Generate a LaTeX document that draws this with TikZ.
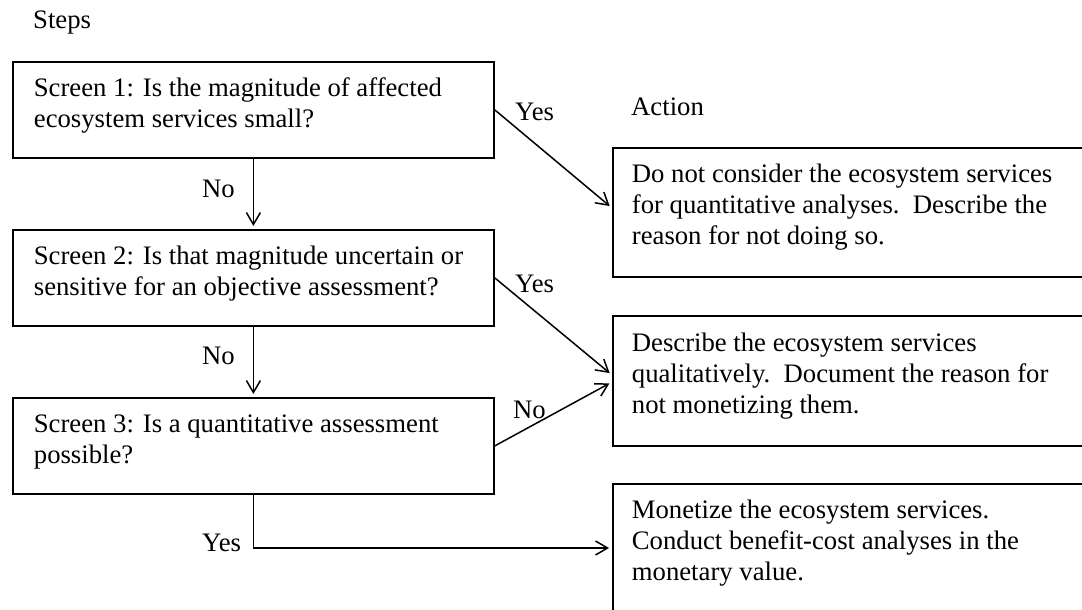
\documentclass[tikz,border=0pt]{standalone}
\usepackage{fontspec}
\setmainfont{Liberation Serif}
\usetikzlibrary{arrows.meta,calc}
\newcommand\bxt[5]{\parbox[c][#2][t]{#1}{\setlength{\leftskip}{#3}\setlength{\parindent}{0pt}\rule{0pt}{#4}#5}}
\tikzset{
  box/.style={draw, line width=1.8pt, inner sep=0pt, anchor=north west},
  lbl/.style={inner sep=0pt, anchor=base west},
  conn/.style={line width=1.5pt, -{Straight Barb[length=12pt,width=14pt,line width=1.5pt]}, shorten >=3pt},
  every node/.style={font=\fontsize{26.7pt}{31pt}\selectfont}
}
\begin{document}
\begin{tikzpicture}[x=1pt,y=-1pt]
\useasboundingbox (0,0) rectangle (1082,610);
\clip (0,0) rectangle (1082,610);
% titles
\node[lbl] (steps) at (33,29) {Steps};
\node[lbl] (action) at (631,115) {Action};
% step boxes
\node[box] (s1) at (12,61) {\bxt{481pt}{96pt}{21pt}{35pt}{Screen 1: Is the magnitude of affected\\ecosystem services small?}};
\node[box] (s2) at (12,229) {\bxt{481pt}{96pt}{21pt}{35pt}{Screen 2: Is that magnitude uncertain or\\sensitive for an objective assessment?}};
\node[box] (s3) at (12,397) {\bxt{481pt}{96pt}{21pt}{35pt}{Screen 3: Is a quantitative assessment\\possible?}};
% action boxes
\node[box] (a1) at (612,147) {\bxt{500pt}{129pt}{19pt}{35pt}{Do not consider the ecosystem services\\for quantitative analyses.\ \ Describe the\\reason for not doing so.}};
\node[box] (a2) at (612,315) {\bxt{500pt}{130pt}{19pt}{36pt}{Describe the ecosystem services\\qualitatively.\ \ Document the reason for\\not monetizing them.}};
\node[box] (a3) at (612,483) {\bxt{500pt}{150pt}{19pt}{35pt}{Monetize the ecosystem services.\\Conduct benefit-cost analyses in the\\monetary value.}};
% connectors
\draw[conn] (s1.south) -- (s2.north);
\draw[conn] (s2.south) -- (s3.north);
\draw[conn] (s1.east) -- ($(a1.north west)+(0,61)$);
\draw[conn] (s2.east) -- ($(a2.north west)+(0,60)$);
\draw[conn] (s3.east) -- ($(a2.north west)+(0,67)$);
\coordinate (yt) at ($(a3.north west)+(0,65)$);
\draw[conn] (s3.south) |- (yt);
% connector labels
\node[lbl] (no1) at (202,197) {No};
\node[lbl] (no2) at (202,364) {No};
\node[lbl] (yes1) at (515,120) {Yes};
\node[lbl] (yes2) at (515,292) {Yes};
\node[lbl] (no3) at (513,418) {No};
\node[lbl] (yes3) at (202,551) {Yes};
\end{tikzpicture}
\end{document}
